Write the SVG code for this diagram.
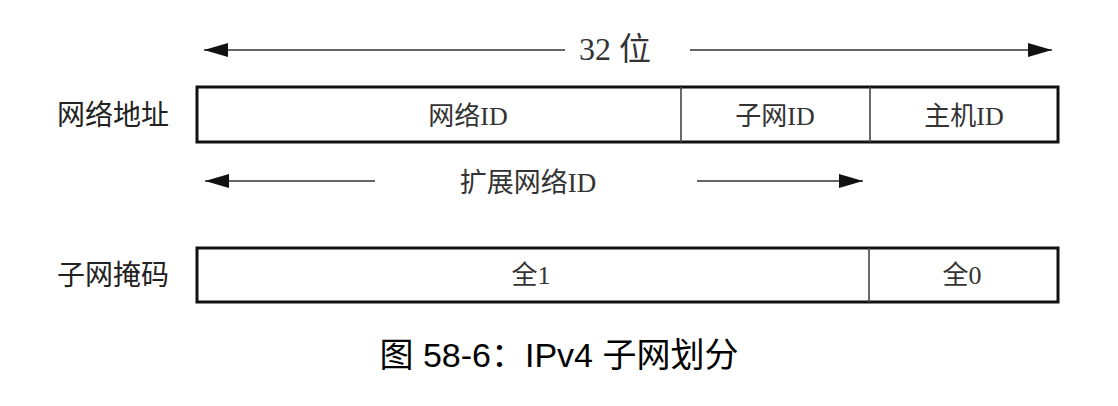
<svg xmlns="http://www.w3.org/2000/svg" width="1118" height="406" viewBox="0 0 1118 406">
<style>
.box{fill:#fff;stroke:#111;stroke-width:3}
.div{stroke:#444;stroke-width:1.6}
.ar{stroke:#333;stroke-width:1.6;fill:none}
.t{font-family:"Liberation Serif","Noto Sans CJK SC",serif;fill:#333;text-anchor:middle}
.in{font-size:26px}
.lb{font-size:28px;fill:#222}
.cap{font-family:"Liberation Sans","Noto Sans CJK SC",sans-serif;font-size:34px;fill:#000;text-anchor:middle}
</style>
<defs>
<marker id="ah" viewBox="0 0 24 14" refX="24" refY="7" markerWidth="24" markerHeight="14" markerUnits="userSpaceOnUse" orient="auto">
<path d="M0,0 L24,7 L0,14 Z" fill="#111"/>
</marker>
</defs>
<rect width="1118" height="406" fill="#fff"/>
<g id="connectors">
<line class="ar" x1="565" y1="50" x2="204" y2="50" marker-end="url(#ah)"/>
<line class="ar" x1="690" y1="50" x2="1052" y2="50" marker-end="url(#ah)"/>
<line class="ar" x1="375" y1="181" x2="205" y2="181" marker-end="url(#ah)"/>
<line class="ar" x1="697" y1="181" x2="863" y2="181" marker-end="url(#ah)"/>
</g>
<g id="label-32"><text class="t" x="615" y="60" style="font-size:32px">32 位</text></g>
<g id="label-ext"><text class="t in" x="528" y="192" style="font-size:27px">扩展网络ID</text></g>
<g id="row-address">
<text class="t lb" x="113" y="125">网络地址</text>
<rect class="box" x="197" y="87" width="861" height="55"/>
<line class="div" x1="681" y1="87" x2="681" y2="142"/>
<line class="div" x1="870" y1="87" x2="870" y2="142"/>
<text class="t in" x="468" y="125">网络ID</text>
<text class="t in" x="775" y="125">子网ID</text>
<text class="t in" x="964" y="125">主机ID</text>
</g>
<g id="row-mask">
<text class="t lb" x="113" y="285">子网掩码</text>
<rect class="box" x="197" y="248" width="861" height="54"/>
<line class="div" x1="869" y1="248" x2="869" y2="302"/>
<text class="t in" x="531" y="284">全1</text>
<text class="t in" x="962" y="284">全0</text>
</g>
<g id="caption"><text class="cap" x="559" y="367">图 58-6：IPv4 子网划分</text></g>
</svg>
